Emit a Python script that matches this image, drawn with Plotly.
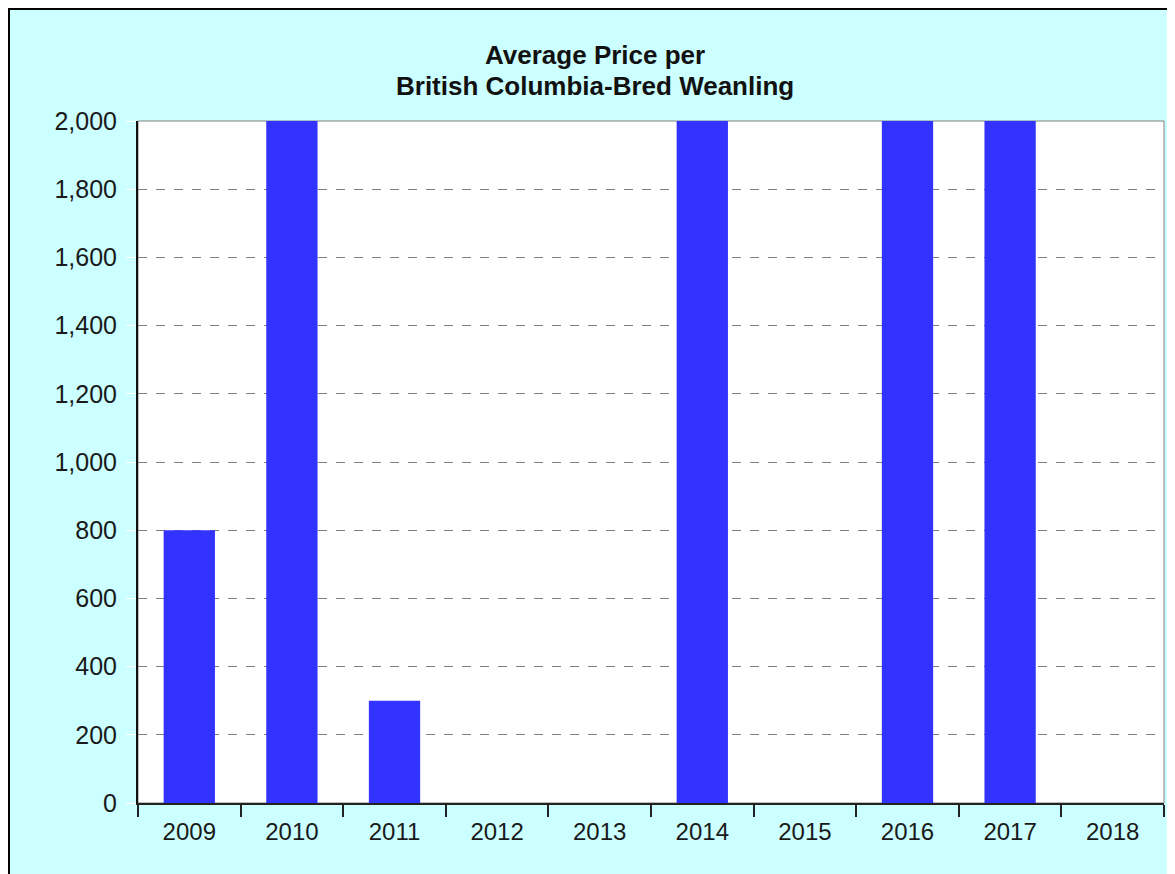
import plotly.graph_objects as go

years = ["2009", "2010", "2011", "2012", "2013", "2014", "2015", "2016", "2017", "2018"]
prices = [800, 2600, 300, None, None, 2400, None, 2800, 2700, None]
y_ticks = [0, 200, 400, 600, 800, 1000, 1200, 1400, 1600, 1800, 2000]
title_lines = ["Average Price per", "British Columbia-Bred Weanling"]

OFF = 8  # default body margin of the page
W, H = 1175, 874
L, R, T, B = 138 - OFF, 1164 - OFF, 121 - OFF, 803 - OFF
pw, ph = R - L, B - T

def px_x(x):
    return (x - OFF - L) / pw

def px_y(y):
    return (B - (y - OFF)) / ph

FONT = "Liberation Sans, Arial, sans-serif"

fig = go.Figure()
fig.add_trace(go.Bar(
    x=years, y=prices,
    marker=dict(color="#3333FF", line=dict(width=0)),
    hoverinfo="x+y",
))

shapes = [
    dict(type="rect", xref="paper", yref="paper", layer="below",
         x0=px_x(9), x1=px_x(1250), y0=px_y(950), y1=px_y(9),
         fillcolor="#CCFFFF", line=dict(color="black", width=2)),
    dict(type="rect", xref="paper", yref="paper", layer="below",
         x0=0, x1=1, y0=0, y1=1,
         fillcolor="white", line=dict(color="#808080", width=1)),
]

annotations = []
for txt, ypix in zip(title_lines, [55, 86]):
    annotations.append(dict(
        text="<b>%s</b>" % txt, xref="paper", yref="paper",
        x=px_x(595), y=px_y(ypix), xanchor="center", yanchor="middle",
        showarrow=False, font=dict(family=FONT, size=26, color="#111111"),
    ))

fig.update_layout(
    width=W, height=H,
    margin=dict(l=L, r=W - R, t=T, b=H - B, pad=0),
    paper_bgcolor="#CCFFFF",
    plot_bgcolor="white",
    bargap=0.5,
    showlegend=False,
    shapes=shapes,
    annotations=annotations,
    font=dict(family=FONT, color="#1a1a1a"),
)

fig.update_xaxes(
    type="category",
    categoryorder="array", categoryarray=years,
    tickson="boundaries",
    ticks="outside", ticklen=12, tickwidth=2, tickcolor="#222222",
    ticklabelstandoff=6,
    showline=True, linecolor="#222222", linewidth=2,
    showgrid=False,
    tickfont=dict(family=FONT, size=24, color="#1a1a1a"),
)

fig.update_yaxes(
    range=[0, 2000],
    tickvals=y_ticks,
    tickformat=",d",
    ticks="outside", ticklen=10, tickcolor="white", tickwidth=1,
    ticklabelstandoff=4,
    showline=True, linecolor="#111111", linewidth=2,
    showgrid=True, gridcolor="#808080", gridwidth=1, griddash="dash",
    zeroline=False,
    tickfont=dict(family=FONT, size=25, color="#1a1a1a"),
)

fig.write_html("out.html")
